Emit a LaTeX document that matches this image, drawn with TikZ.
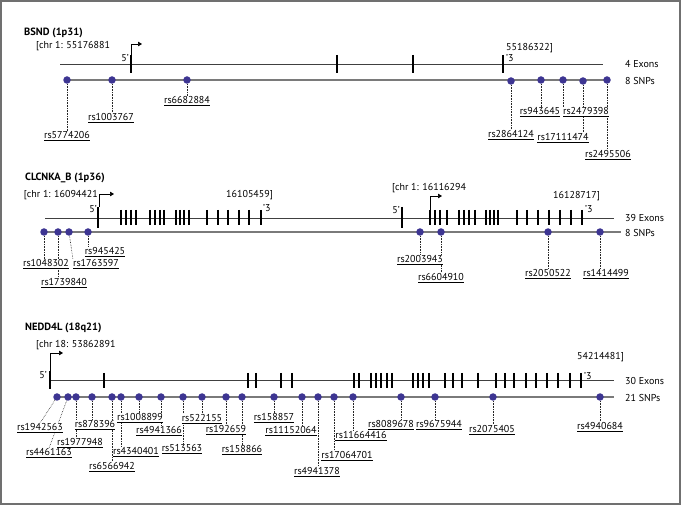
\documentclass[tikz,border=0pt]{standalone}
\usepackage{fontspec}
\setmainfont{PT Sans}
\usepackage{xcolor}
\usepackage{tikz}
\usetikzlibrary{
  arrows.meta,
  positioning,
  calc,
  backgrounds
}
\definecolor{SnpBlue}{HTML}{3D3592}
\definecolor{FrameGrey}{HTML}{707070}
\definecolor{GeneGrey}{HTML}{404040}
\definecolor{TrackGrey}{HTML}{7A7A7A}

\newcommand{\lblfont}{\fontsize{10}{12}\selectfont}
\newcommand{\rsid}[1]{\underline{#1}}

\tikzset{
  snpdot/.style={circle,fill=SnpBlue,inner sep=0pt,minimum size=7.5pt},
  rsname/.style={inner sep=0pt,fill=white,font=\lblfont},
  posinfo/.style={inner sep=0pt,anchor=west,font=\lblfont},
  genetitle/.style={inner sep=0pt,anchor=west,font=\bfseries\fontsize{10.5}{12}\selectfont},
  leadline/.style={densely dotted,line width=0.6pt,black!85},
  geneline/.style={line width=0.8pt,GeneGrey},
  snpline/.style={line width=1.1pt,TrackGrey},
  exonbar/.style={line width=1.1pt,black},
  firstexon/.style={line width=2.6pt,black},
  tssarrow/.style={-{Triangle[length=4pt,width=4.5pt]},line width=0.7pt}
}

\begin{document}
\begin{tikzpicture}[x=1pt,y=-1pt]
\useasboundingbox (0,0) rectangle (681,505);
\draw[FrameGrey,line width=1.4pt] (1,1) rectangle (680,504);

% ---- BSND ----
\node[genetitle] (bsndT) at (24,33) {BSND (1p31)};
\node[posinfo] (bsndS) at (36,46) {[chr 1: 55176881};
\node[posinfo] (bsndE) at (506,48) {55186322]};
\node[posinfo,anchor=east] (bsnd5) at (129,58) {5'};
\node[posinfo] (bsnd3) at (506,58) {'3};
\node[posinfo] (bsndX) at (625,64) {4 Exons};
\node[posinfo] (bsndN) at (625,81) {8 SNPs};
\draw[geneline] (60,64) -- (603,64);
\draw[snpline] (67,80) -- (607,80);
\foreach \x in {131,337,413,503}
  \draw[firstexon] (\x,55) -- (\x,73);
\draw[tssarrow] (131,55) -- (131,44) -- (142,44);

\node[snpdot] (b1) at (67,80) {};
\node[snpdot] (b2) at (112,80) {};
\node[snpdot] (b3) at (187,80) {};
\node[snpdot] (b4) at (511,81) {};
\node[snpdot] (b5) at (541,80) {};
\node[snpdot] (b6) at (563,80) {};
\node[snpdot] (b7) at (583,81) {};
\node[snpdot] (b8) at (607,80) {};

\node[rsname] (lb1) at (67,136) {\rsid{rs5774206}};
\node[rsname] (lb2) at (111,118) {\rsid{rs1003767}};
\node[rsname] (lb3) at (187,101) {\rsid{rs6682884}};
\node[rsname] (lb4) at (511,135) {\rsid{rs2864124}};
\node[rsname] (lb5) at (540,112) {\rsid{rs943645}};
\node[rsname] (lb6) at (586,112) {\rsid{rs2479398}};
\node[rsname] (lb7) at (563,138) {\rsid{rs17111474}};
\node[rsname] (lb8) at (608,155) {\rsid{rs2495506}};

% ---- CLCNKA_B ----
\node[genetitle] (clcT) at (25,178) {CLCNKA\_B (1p36)};
\node[posinfo,anchor=east] (clcS) at (98,195) {[chr 1: 16094421};
\node[posinfo] (clcE) at (226,195) {16105459]};
\node[posinfo,anchor=east] (clc5) at (97,209) {5'};
\node[posinfo] (clc3) at (263,208) {'3};
\node[posinfo] (clcS2) at (392,188) {[chr 1: 16116294};
\node[posinfo] (clcE2) at (553,196) {16128717]};
\node[posinfo,anchor=east] (clc52) at (400,210) {5'};
\node[posinfo] (clc32) at (585,209) {'3};
\node[posinfo] (clcX) at (625,218) {39 Exons};
\node[posinfo] (clcN) at (625,233) {8 SNPs};
\draw[geneline] (45,218) -- (614,218);
\draw[snpline] (44,232) -- (621,232);
\foreach \x in {98,402}
  \draw[firstexon] (\x,207) -- (\x,228);
\foreach \x in {121,126,131,136,150,155,160,164,176,180,184,189,207,218,228,239,249,261,
                430,435,440,447,459,464,469,475,486,490,494,498,517,527,538,549,560,571,582}
  \draw[exonbar] (\x,210) -- (\x,225);
\draw[tssarrow] (99,207) -- (99,194) -- (114,194);
\draw[tssarrow] (430,210) -- (430,196) -- (442,196);

\node[snpdot] (c1) at (44,232) {};
\node[snpdot] (c2) at (58,232) {};
\node[snpdot] (c3) at (69,232) {};
\node[snpdot] (c4) at (88,232) {};
\node[snpdot] (c5) at (420,232) {};
\node[snpdot] (c6) at (441,232) {};
\node[snpdot] (c7) at (548,232) {};
\node[snpdot] (c8) at (600,232) {};

\node[rsname] (lc1) at (46,264) {\rsid{rs1048302}};
\node[rsname] (lc2) at (64,283) {\rsid{rs1739840}};
\node[rsname] (lc3) at (96,264) {\rsid{rs1763597}};
\node[rsname] (lc4) at (105,252) {\rsid{rs945425}};
\node[rsname] (lc5) at (420,260) {\rsid{rs2003943}};
\node[rsname] (lc6) at (441,278) {\rsid{rs6604910}};
\node[rsname] (lc7) at (548,274) {\rsid{rs2050522}};
\node[rsname] (lc8) at (606,274) {\rsid{rs1414499}};

% ---- NEDD4L ----
\node[genetitle] (nedT) at (25,328) {NEDD4L (18q21)};
\node[posinfo] (nedS) at (36,345) {[chr 18: 53862891};
\node[posinfo] (nedE) at (577,357) {54214481]};
\node[posinfo,anchor=east] (ned5) at (47,375) {5'};
\node[posinfo] (ned3) at (584,376) {'3};
\node[posinfo] (nedX) at (625,381) {30 Exons};
\node[posinfo] (nedN) at (625,398) {21 SNPs};
\draw[geneline] (50,380) -- (614,380);
\draw[snpline] (57,397) -- (614,397);
\draw[firstexon] (50,371) -- (50,389);
\foreach \x in {104,248,256,281,292,354,359,371,376,381,387,392,413,418,423,429,
                445,453,462,478,496,505,514,526,536,547,558,570,581}
  \draw[exonbar] (\x,373) -- (\x,388);
\draw[tssarrow] (50,371) -- (50,353) -- (63,353);

\foreach \x [count=\i] in {57,68,76,92,112,121,139,161,183,202,226,242,274,302,318,334,353,401,435,493,600}
  \node[snpdot] (n\i) at (\x,397) {};

\node[rsname] (ln1) at (40,428) {\rsid{rs1942563}};
\node[rsname] (ln2) at (49,453) {\rsid{rs4461163}};
\node[rsname] (ln3) at (80,443) {\rsid{rs1977948}};
\node[rsname] (ln4) at (95,425) {\rsid{rs878396}};
\node[rsname] (ln5) at (112,467) {\rsid{rs6566942}};
\node[rsname] (ln6) at (136,452) {\rsid{rs4340401}};
\node[rsname] (ln7) at (140,418) {\rsid{rs1008899}};
\node[rsname] (ln8) at (159,431) {\rsid{rs4941366}};
\node[rsname] (ln9) at (182,449) {\rsid{rs513563}};
\node[rsname] (ln10) at (202,419) {\rsid{rs522155}};
\node[rsname] (ln11) at (226,430) {\rsid{rs192659}};
\node[rsname] (ln12) at (242,450) {\rsid{rs158866}};
\node[rsname] (ln13) at (274,418) {\rsid{rs158857}};
\node[rsname] (ln14) at (291,431) {\rsid{rs11152064}};
\node[rsname] (ln15) at (317,472) {\rsid{rs4941378}};
\node[rsname] (ln16) at (347,456) {\rsid{rs17064701}};
\node[rsname] (ln17) at (361,436) {\rsid{rs11664416}};
\node[rsname] (ln18) at (391,425) {\rsid{rs8089678}};
\node[rsname] (ln19) at (439,425) {\rsid{rs9675944}};
\node[rsname] (ln20) at (492,430) {\rsid{rs2075405}};
\node[rsname] (ln21) at (600,427) {\rsid{rs4940684}};

% dotted leaders, kept behind the labels
\begin{scope}[on background layer]
  \foreach \i in {1,...,8}
    \draw[leadline] (b\i) -- (b\i |- lb\i.north);
  \foreach \i in {1,2,4,5,6,7,8}
    \draw[leadline] (c\i) -- (c\i |- lc\i.north);
  \draw[leadline] (c3) -- (lc3.north west);
  \draw[leadline] (n1) -- (ln1.north);
  \draw[leadline] (n2) -- (ln2.north);
  \foreach \i in {3,...,21}
    \draw[leadline] (n\i) -- (n\i |- ln\i.north);
\end{scope}
\end{tikzpicture}
\end{document}
